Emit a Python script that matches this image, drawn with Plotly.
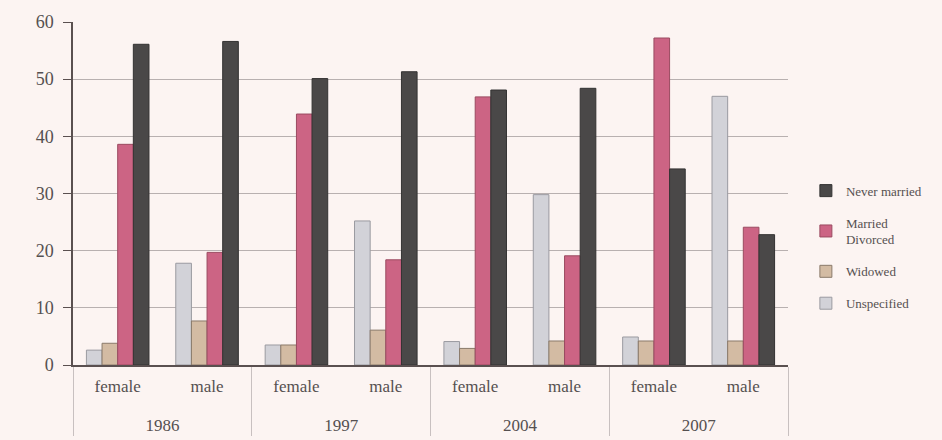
import plotly.graph_objects as go

years = ["1986", "1986", "1997", "1997", "2004", "2004", "2007", "2007"]
sexes = ["female", "male"] * 4

unspecified = [2.6, 17.8, 3.5, 25.2, 4.1, 29.8, 4.9, 47.0]
widowed = [3.8, 7.7, 3.5, 6.1, 2.9, 4.2, 4.2, 4.2]
married_divorced = [38.6, 19.7, 43.9, 18.4, 46.9, 19.1, 57.2, 24.1]
never_married = [56.1, 56.6, 50.1, 51.3, 48.1, 48.4, 34.3, 22.8]

series = [
    ("Unspecified", unspecified, "#d2d2d8", "#9a9aa0"),
    ("Widowed", widowed, "#d3bba3", "#8a7a6a"),
    ("Married<br>Divorced", married_divorced, "#cc6484", "#9a4a60"),
    ("Never married", never_married, "#4a4848", "#333232"),
]

year_labels = ["<br>" + y for y in years]

fig = go.Figure()
for i, (name, vals, col, line) in enumerate(series):
    fig.add_trace(go.Bar(
        x=[year_labels, sexes], y=vals, name=name,
        marker=dict(color=col, line=dict(color=line, width=1)),
        legendgroup=f"g{i}", legendrank=10 - i,
    ))

font = "Liberation Serif, Times New Roman, serif"
fig.update_layout(
    width=942, height=440,
    margin=dict(l=73, r=154, t=22, b=75, autoexpand=False),
    paper_bgcolor="#fcf4f2", plot_bgcolor="#fcf4f2",
    barmode="group", bargap=0.3, bargroupgap=0,
    font=dict(family=font, size=17, color="#555050"),
    showlegend=True,
    legend=dict(
        x=1.025, xanchor="left", y=0.552, yanchor="top",
        traceorder="grouped", tracegroupgap=12,
        font=dict(family=font, size=13, color="#555050"),
        bgcolor="rgba(0,0,0,0)", itemwidth=30,
    ),
    xaxis=dict(
        type="multicategory", showline=True, linecolor="#5a5050", linewidth=2,
        showdividers=True, dividercolor="#c8c0c0", dividerwidth=1,
        tickfont=dict(family=font, size=17, color="#555050"),
        ticks="", ticklabelstandoff=5,
    ),
    yaxis=dict(
        range=[0, 60], dtick=10, showgrid=True, gridcolor="#b8b0b0", gridwidth=1,
        showline=True, linecolor="#5a5050", linewidth=1.5,
        ticks="outside", ticklen=8, tickcolor="#5a5050",
        tickfont=dict(family=font, size=18, color="#555050"),
        ticklabelstandoff=6,
        zeroline=False,
    ),
)

fig.write_html("out.html", config={"displayModeBar": False},
               post_script="document.body.style.margin='0px';")
